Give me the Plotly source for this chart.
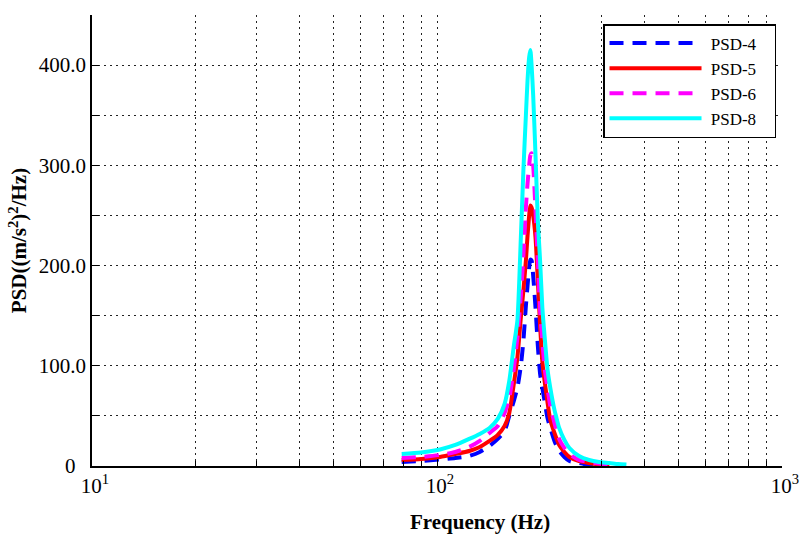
import plotly.graph_objects as go

# Frequencies (Hz) and PSD values
freq_psd4 = [79, 90, 102, 113, 124, 133, 142, 150, 157, 162, 167, 171, 175, 178, 181, 183, 185, 186.5,
             188, 190, 193, 196, 199, 202, 205, 209, 213, 219, 226, 234, 242, 258, 276, 295]
psd4 = [4, 5, 6.5, 8, 10, 14, 20, 27, 35, 50, 65, 78, 100, 125, 160, 180, 198, 206,
        205, 190, 158, 120, 92, 78, 65, 48, 38, 25, 15, 9, 5, 3, 1, 0.5]

freq_psd5 = [79, 90, 102, 113, 124, 133, 142, 150, 157, 162, 167, 171, 175, 178, 181, 183, 185, 186.5,
             188, 190, 193, 196, 199, 202, 205, 209, 213, 219, 226, 234, 242, 258, 276, 295, 316]
psd5 = [6, 7, 9, 12, 15, 19, 25, 31, 40, 53, 82, 108, 148, 175, 205, 230, 250, 260,
        258, 250, 228, 185, 140, 104, 85, 64, 46, 33, 21, 14, 9, 5, 3, 1.5, 0.5]

freq_psd6 = [79, 90, 102, 113, 124, 133, 142, 150, 157, 162, 167, 171, 175, 178, 181, 183, 185, 186.5,
             188, 190, 193, 196, 199, 202, 205, 209, 213, 219, 226, 234, 242, 258, 276, 295, 316, 335, 346]
psd6 = [8, 9, 11, 14, 19, 25, 33, 40, 53, 68, 97, 128, 170, 210, 258, 282, 300, 310,
        312, 300, 255, 205, 155, 125, 98, 78, 60, 43, 27, 18, 12, 6, 4, 2.5, 1.5, 1, 0.5]

freq_psd8 = [79, 90, 102, 113, 124, 133, 142, 150, 157, 162, 167, 171, 175, 178, 181, 183, 185, 186.5,
             188, 190, 193, 196, 199, 202, 205, 209, 213, 219, 222, 226, 234, 242, 258, 276, 295, 316, 335, 354]
psd8 = [12, 13.5, 16.5, 21, 27, 32, 38, 47, 62, 85, 120, 145, 228, 295, 350, 385, 408, 415,
        400, 370, 310, 245, 205, 158, 130, 97, 78, 56, 48, 38, 26, 18, 10, 6, 4, 3, 2, 1.5]

series_names = ["PSD-4", "PSD-5", "PSD-6", "PSD-8"]
series_colors = ["#0000FF", "#FF0000", "#FF00FF", "#00FFFF"]
series_dash = ["14px,9px", "solid", "14px,9px", "solid"]

y_tickvals = [0, 100, 200, 300, 400]
y_ticktext = ["0\u00a0\u00a0", "100.0", "200.0", "300.0", "400.0"]
y_minor = [50, 150, 250, 350, 450]
x_tickvals = [10, 100, 1000]
x_ticktext = ["10<sup>1</sup>", "10<sup>2</sup>", "10<sup>3</sup>"]
x_minor = [20, 30, 40, 50, 60, 70, 80, 90, 200, 300, 400, 500, 600, 700, 800, 900]

NB = "\u00a0"
fig = go.Figure()
for f, v, n, c, d in zip([freq_psd4, freq_psd5, freq_psd6, freq_psd8],
                         [psd4, psd5, psd6, psd8],
                         series_names, series_colors, series_dash):
    fig.add_trace(go.Scatter(x=f, y=v, mode="lines", name=NB + n + NB * 3,
                             line=dict(color=c, width=4, dash=d, shape="spline", smoothing=0.6)))

grid_dash = "1.5px,4.5px"
fig.update_layout(
    width=801, height=538,
    margin=dict(l=92, r=19, t=15, b=72),
    paper_bgcolor="white", plot_bgcolor="white",
    font=dict(family="Liberation Serif, Times New Roman, serif", size=21, color="black"),
    showlegend=True,
    legend=dict(x=0.7406, y=0.98, xanchor="left", yanchor="top",
                bgcolor="white", bordercolor="black", borderwidth=1.5,
                font=dict(size=17), itemwidth=92, tracegroupgap=0),
    annotations=[dict(text="<b>Frequency (Hz)</b>", xref="paper", yref="paper",
                      x=0.562, y=-0.124, xanchor="center", yanchor="middle",
                      showarrow=False, font=dict(size=21))],
)
fig.update_xaxes(
    type="log", range=[1, 3], automargin=False,
    tickvals=x_tickvals, ticktext=x_ticktext, ticklabelshift=3, ticklabeloverflow="allow",
    ticks="inside", ticklen=7, tickcolor="black",
    showgrid=True, gridcolor="#222", gridwidth=1, griddash=grid_dash,
    minor=dict(tickvals=x_minor, ticks="inside", ticklen=5, tickcolor="black",
               showgrid=True, gridcolor="#222", gridwidth=1, griddash=grid_dash),
    showline=True, linecolor="black", linewidth=1.5, zeroline=False,
)
fig.update_yaxes(
    range=[0, 450], automargin=False,
    tickvals=y_tickvals, ticktext=y_ticktext,
    ticks="inside", ticklen=7, tickcolor="black",
    showgrid=True, gridcolor="#222", gridwidth=1, griddash=grid_dash,
    minor=dict(tickvals=y_minor, ticks="inside", ticklen=7, tickcolor="black",
               showgrid=True, gridcolor="#222", gridwidth=1, griddash=grid_dash),
    showline=True, linecolor="black", linewidth=1.5, zeroline=False,
    title=dict(text="<b>PSD((m/s<sup>2</sup>)<sup>2</sup>/Hz)</b>", font=dict(size=21), standoff=6),
)

fig.write_html("out.html")
